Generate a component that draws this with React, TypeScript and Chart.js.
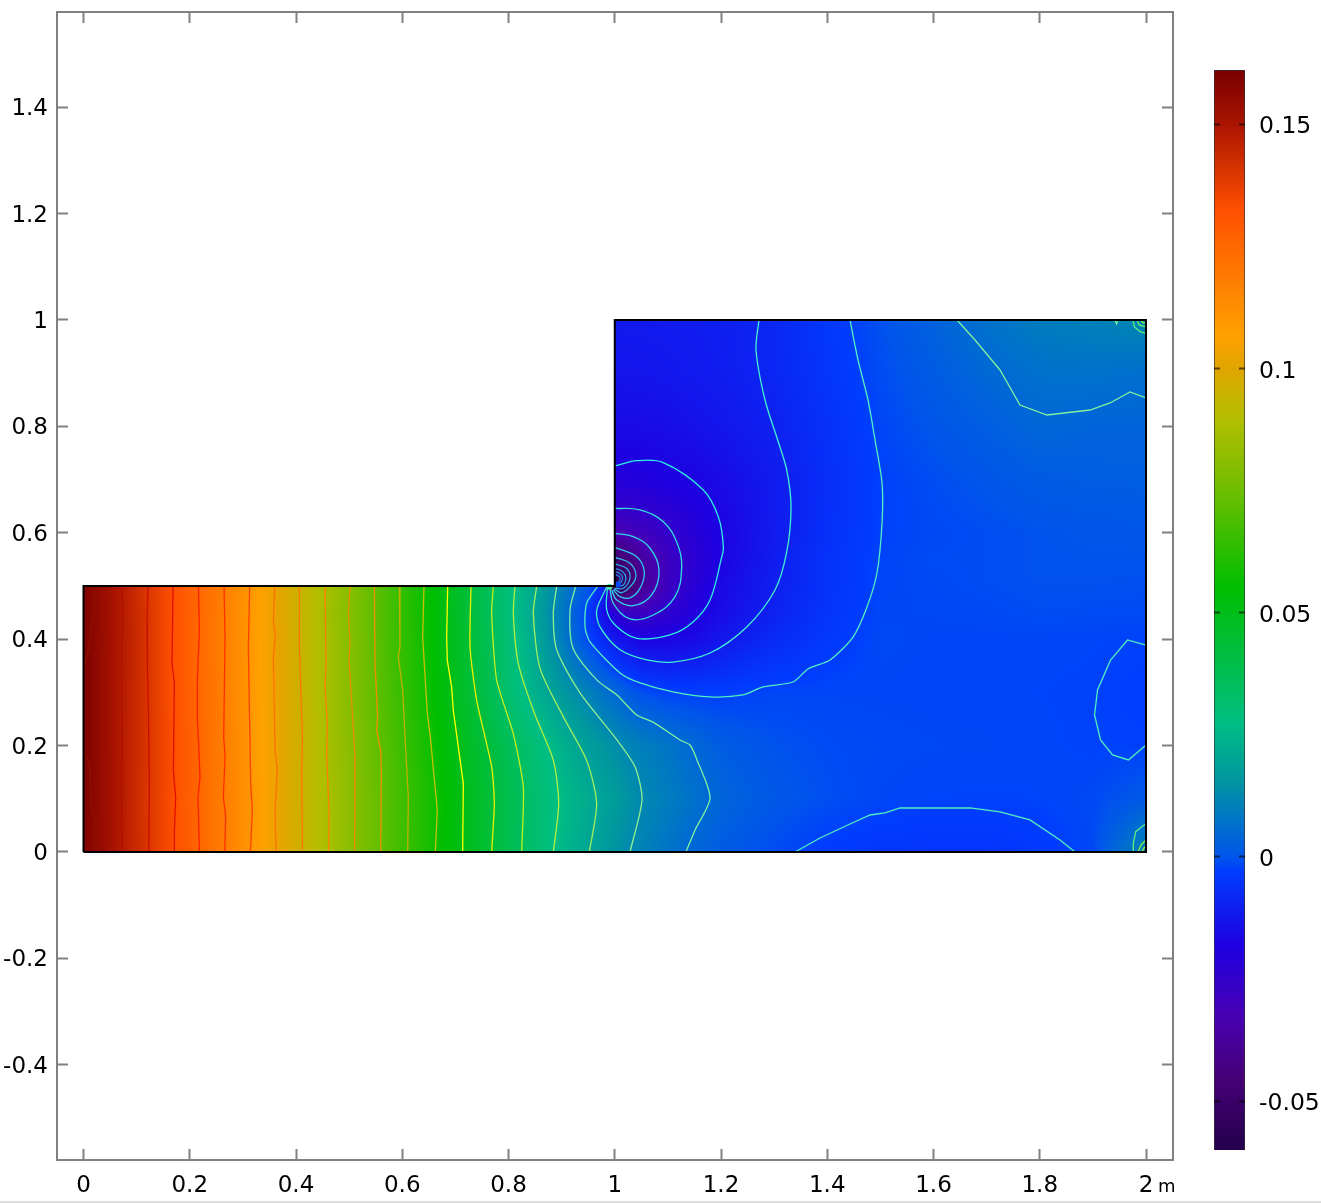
import React, { useEffect, useRef } from "react";
import { Chart, registerables } from "chart.js";

Chart.register(...registerables);

// Field samples (metres, value)
const xsLeft = [0, 0.1, 0.2, 0.3, 0.4, 0.5, 0.6, 0.7, 0.8, 0.85, 0.9, 0.95, 0.98];
const xsRight = [1, 1.02, 1.05, 1.1, 1.15, 1.2, 1.3, 1.4, 1.5, 1.6, 1.7, 1.8, 1.9, 2];
const ysLower = [0, 0.1, 0.2, 0.3, 0.4, 0.45, 0.5];
const ysUpper = [0.52, 0.55, 0.6, 0.65, 0.7, 0.8, 0.9, 1];

const rowY000 = [0.16, 0.1434, 0.128, 0.1125, 0.0968, 0.0816, 0.0665, 0.052, 0.0383, 0.0317, 0.0258, 0.0202, 0.0175, 0.0153, 0.0133, 0.0109, 0.0074, 0.004, 0.0015, -0.0012, -0.0034, -0.0045, -0.005, -0.005, -0.0038, -0.0015, 0.012];
const rowY010 = [0.16, 0.1433, 0.1278, 0.1125, 0.0967, 0.0817, 0.0667, 0.0522, 0.0388, 0.0318, 0.0269, 0.022, 0.0193, 0.0178, 0.0153, 0.0125, 0.0096, 0.0066, 0.0038, 0.0007, -0.0008, -0.0018, -0.0022, -0.0023, -0.0022, -0.0015, 0.001];
const rowY020 = [0.16, 0.1434, 0.128, 0.1123, 0.0966, 0.081, 0.0658, 0.0507, 0.0368, 0.0304, 0.0238, 0.0183, 0.0155, 0.0138, 0.012, 0.0102, 0.0076, 0.0044, 0.0018, -0.0003, -0.0012, -0.0015, -0.0017, -0.0018, -0.002, -0.0024, -0.0025];
const rowY030 = [0.16, 0.1435, 0.1275, 0.112, 0.0965, 0.0802, 0.0648, 0.0488, 0.0318, 0.0235, 0.0165, 0.0108, 0.0067, 0.0046, 0.002, -0.0008, -0.0025, -0.0027, -0.0028, -0.0019, -0.0018, -0.0019, -0.002, -0.002, -0.0022, -0.0024, -0.003];
const rowY040 = [0.16, 0.1437, 0.1272, 0.112, 0.0962, 0.08, 0.0643, 0.0482, 0.0307, 0.0212, 0.0097, -0.0022, -0.008, -0.0118, -0.0142, -0.0172, -0.0172, -0.0157, -0.0125, -0.0075, -0.004, -0.0016, -0.0019, -0.0019, -0.0019, -0.0021, -0.0024];
const rowY045 = [0.16, 0.1435, 0.1275, 0.1118, 0.096, 0.0798, 0.0642, 0.0475, 0.0295, 0.02, 0.0085, -0.0035, -0.0155, -0.0218, -0.0265, -0.028, -0.0235, -0.019, -0.0155, -0.0095, -0.005, -0.0018, -0.0017, -0.0015, -0.001, -0.0012, -0.0013];
const rowY050 = [0.16, 0.1432, 0.1275, 0.112, 0.096, 0.0803, 0.064, 0.0475, 0.0297, 0.0206, 0.0105, 0.0008, -0.008, -0.06, -0.054, -0.0395, -0.028, -0.0215, -0.016, -0.0103, -0.0055, -0.002, -0.0015, -0.001, -0.0005, -0.0005, -0.0008];
const rowY052 = [-0.058, -0.052, -0.0395, -0.028, -0.022, -0.0168, -0.0105, -0.0055, -0.0021, -0.0014, -0.001, -0.0004, -0.0004, -0.0005];
const rowY055 = [-0.0495, -0.0455, -0.037, -0.0285, -0.0224, -0.0175, -0.0108, -0.0055, -0.0022, -0.0012, -0.001, -0.0003, -0.0002, -0.0002];
const rowY060 = [-0.0325, -0.0315, -0.0295, -0.0255, -0.021, -0.0175, -0.0115, -0.006, -0.0025, -0.0015, -0.001, -0.0003, 0.0002, 0.0003];
const rowY065 = [-0.025, -0.0248, -0.0238, -0.0215, -0.0187, -0.0165, -0.0113, -0.0063, -0.0027, -0.0013, -0.0003, 0.0006, 0.001, 0.0012];
const rowY070 = [-0.0199, -0.0198, -0.0193, -0.0177, -0.0172, -0.0155, -0.0113, -0.0065, -0.0026, -0.001, 0.0003, 0.0015, 0.002, 0.0022];
const rowY080 = [-0.0155, -0.0155, -0.0153, -0.0148, -0.0138, -0.0125, -0.0098, -0.0058, -0.002, 0.0003, 0.002, 0.0042, 0.0035, 0.0035];
const rowY090 = [-0.013, -0.013, -0.0128, -0.0123, -0.0115, -0.0108, -0.0085, -0.0048, -0.0012, 0.0015, 0.0045, 0.0065, 0.0068, 0.006];
const rowY100 = [-0.0115, -0.0115, -0.0114, -0.0112, -0.0108, -0.0103, -0.0082, -0.0042, -0.0005, 0.003, 0.0068, 0.0095, 0.0105, 0.012];

const lowerRows = [rowY000, rowY010, rowY020, rowY030, rowY040, rowY045, rowY050];
const upperRows = [rowY052, rowY055, rowY060, rowY065, rowY070, rowY080, rowY090, rowY100];

// Domain outline
const domainX = [0, 2, 2, 1, 1, 0, 0];
const domainY = [0, 0, 1, 1, 0.5, 0.5, 0];

// Colour table: value, r, g, b
const colorValues = [-0.06, -0.045, -0.032, -0.018, -0.003, 0, 0.0157, 0.0275, 0.04, 0.055, 0.075, 0.09, 0.1, 0.107, 0.1324, 0.15, 0.1611];
const colorRGB = [
  [35, 0, 75], [70, 0, 120], [70, 0, 180], [30, 0, 225], [0, 60, 255], [0, 85, 235], [0, 150, 160], [0, 190, 130],
  [0, 190, 70], [0, 190, 0], [110, 190, 0], [180, 190, 0], [225, 165, 0], [255, 160, 0], [255, 80, 0], [170, 20, 0], [120, 0, 0],
];

// Contour lines as [x, y]
const contourLines: number[][][] = [
  [[0.0216, 0.5], [0.0185, 0.449], [0.009, 0.38], [0.001, 0.342]],
  [[0.0719, 0.5], [0.075, 0.423], [0.0719, 0.398], [0.0725, 0.25], [0.0719, 0.06], [0.0731, 0]],
  [[0.1214, 0.5], [0.1196, 0.429], [0.1202, 0.354], [0.1221, 0.266], [0.124, 0.122], [0.1227, 0]],
  [[0.1685, 0.5], [0.1666, 0.354], [0.171, 0.317], [0.1691, 0.153], [0.1735, 0.103], [0.171, 0.04], [0.171, 0]],
  [[0.2162, 0.5], [0.2181, 0.417], [0.2143, 0.323], [0.2143, 0.254], [0.2193, 0.141], [0.2156, 0.103], [0.2181, 0]],
  [[0.2645, 0.5], [0.2664, 0.404], [0.2639, 0.216], [0.2664, 0.179], [0.2632, 0.103], [0.2676, 0.066], [0.2658, 0]],
  [[0.3128, 0.5], [0.3103, 0.385], [0.3147, 0.128], [0.3178, 0.078], [0.3141, 0]],
  [[0.3599, 0.5], [0.3574, 0.435], [0.3611, 0.404], [0.3574, 0.367], [0.3605, 0.191], [0.3649, 0.154], [0.3605, 0.078], [0.3624, 0]],
  [[0.4063, 0.5], [0.4063, 0.385], [0.412, 0.216], [0.4107, 0.154], [0.412, 0]],
  [[0.4546, 0.5], [0.4565, 0.354], [0.4546, 0.31], [0.459, 0.241], [0.4578, 0.179], [0.4621, 0.078], [0.4615, 0]],
  [[0.5016, 0.5], [0.4985, 0.448], [0.5016, 0.398], [0.4997, 0.36], [0.5066, 0.254], [0.511, 0.179], [0.5104, 0]],
  [[0.5474, 0.5], [0.5487, 0.354], [0.5537, 0.254], [0.5518, 0.229], [0.5593, 0.191], [0.5606, 0.154], [0.5593, 0]],
  [[0.5945, 0.5], [0.5957, 0.385], [0.5926, 0.367], [0.6008, 0.304], [0.6052, 0.216], [0.6114, 0.103], [0.6102, 0]],
  [[0.6409, 0.5], [0.6384, 0.404], [0.6472, 0.26], [0.6522, 0.222], [0.666, 0.078], [0.6622, 0]],
  [[0.6855, 0.5], [0.6836, 0.404], [0.6848, 0.36], [0.693, 0.31], [0.6961, 0.266], [0.715, 0.128], [0.7137, 0]],
  [[0.7294, 0.5], [0.7275, 0.385], [0.7401, 0.285], [0.7683, 0.16], [0.7733, 0.091], [0.7683, 0]],
  [[0.7714, 0.5], [0.7683, 0.448], [0.7777, 0.323], [0.8091, 0.222], [0.8279, 0.122], [0.8248, 0]],
  [[0.8122, 0.5], [0.8091, 0.448], [0.8185, 0.354], [0.8467, 0.266], [0.8844, 0.172], [0.8944, 0.091], [0.8844, 0]],
  [[0.853, 0.5], [0.8467, 0.448], [0.8593, 0.345], [0.9032, 0.254], [0.9471, 0.172], [0.9659, 0.091], [0.9521, 0]],
  [[0.8907, 0.5], [0.8843, 0.449], [0.8907, 0.38], [0.9346, 0.299], [1.0042, 0.2105], [1.0381, 0.16], [1.0513, 0.098], [1.0287, 0]],
  [[0.9265, 0.5], [0.9158, 0.455], [0.9214, 0.383], [0.9666, 0.323], [1.0042, 0.295], [1.0413, 0.2575], [1.072, 0.244], [1.1228, 0.2105], [1.1416, 0.201], [1.1548, 0.173], [1.1793, 0.1015], [1.151, 0.041], [1.134, 0]],
  [[0.9685, 0.5], [0.9472, 0.468], [0.944, 0.423], [0.9534, 0.395], [1.0099, 0.3365], [1.0475, 0.3177], [1.1096, 0.3008], [1.1793, 0.2914], [1.2414, 0.2951], [1.2791, 0.3102], [1.3355, 0.3195], [1.3638, 0.344], [1.4052, 0.361], [1.4485, 0.404], [1.4748, 0.4605], [1.4936, 0.5244], [1.5031, 0.6184], [1.5031, 0.6936], [1.4899, 0.7744], [1.4767, 0.8496], [1.4579, 0.9248], [1.4428, 1]],
  [[0.9849, 0.498], [0.966, 0.455], [0.9722, 0.423], [1.0099, 0.38], [1.0602, 0.361], [1.1096, 0.357], [1.1793, 0.374], [1.2484, 0.423], [1.3016, 0.4925], [1.3237, 0.564], [1.3318, 0.6485], [1.3237, 0.718], [1.3067, 0.7744], [1.2828, 0.8496], [1.2659, 0.9436], [1.2715, 1]],
  [[0.986, 0.4956], [0.9849, 0.455], [1.0005, 0.4267], [1.0413, 0.4017], [1.104, 0.4079], [1.1478, 0.4329], [1.1793, 0.4737], [1.2, 0.5489], [1.2044, 0.5738], [1.1949, 0.6303], [1.1667, 0.6805], [1.0914, 0.7318], [1.0413, 0.7355], [1.0005, 0.7256]],
  [[0.9911, 0.4956], [0.9972, 0.4675], [1.0287, 0.438], [1.0725, 0.4455], [1.1134, 0.48], [1.126, 0.536], [1.1177, 0.58], [1.0914, 0.6207], [1.0475, 0.6429], [1.0005, 0.6459]],
  [[0.9943, 0.4925], [1.0037, 0.4737], [1.0349, 0.463], [1.0696, 0.4831], [1.0833, 0.53], [1.0664, 0.5709], [1.0349, 0.5927], [1.0005, 0.599]],
  [[0.9972, 0.4925], [1.0099, 0.48], [1.0287, 0.4778], [1.0475, 0.4956], [1.0556, 0.5269], [1.0414, 0.555], [1.0005, 0.5727]],
  [[0.9986, 0.4944], [1.0131, 0.4874], [1.0319, 0.5019], [1.04, 0.5207], [1.0287, 0.5427], [1.0005, 0.5539]],
  [[1.0005, 0.4956], [1.0162, 0.4956], [1.0287, 0.5145], [1.0225, 0.533], [1.0005, 0.5414]],
  [[1.0024, 0.4987], [1.0162, 0.5019], [1.0206, 0.5175], [1.0131, 0.5282], [1.0005, 0.5333]],
  [[1.0037, 0.5006], [1.0131, 0.5081], [1.0143, 0.5175], [1.0087, 0.5238], [1.0005, 0.5269]],
  [[1.0037, 0.5038], [1.0099, 0.5113], [1.0087, 0.5175], [1.0005, 0.522]],
  // left edge, lower piece
  [[0.001, 0.186], [0.011, 0.167], [0.015, 0.079], [0.0235, 0.064], [0.0235, 0]],
  // upper right
  [[1.6442, 1], [1.6781, 0.9624], [1.7252, 0.906], [1.7628, 0.8402], [1.8136, 0.8214], [1.8946, 0.8308], [1.9322, 0.844], [1.9699, 0.8647], [2, 0.8534]],
  // right edge loop
  [[2, 0.389], [1.9652, 0.3985], [1.9332, 0.3609], [1.9087, 0.3045], [1.9031, 0.2575], [1.9144, 0.2105], [1.937, 0.1823], [1.967, 0.1729], [2, 0.2011]],
  // bottom arc
  [[1.3393, 0], [1.3864, 0.0263], [1.4428, 0.0526], [1.4805, 0.0695], [1.5087, 0.0733], [1.5369, 0.0827], [1.5934, 0.0827], [1.6687, 0.0827], [1.7252, 0.0752], [1.7816, 0.0602], [1.8381, 0.0226], [1.8664, 0]],
  // corner details
  [[1.9416, 1], [1.9445, 0.9925], [1.9473, 1]],
  [[1.9755, 1], [1.978, 0.9874], [1.9887, 0.978], [1.9994, 0.975]],
  [[1.9831, 1], [1.9868, 0.9906], [2, 0.9868]],
  [[1.9906, 1], [1.9944, 0.9944], [2, 0.9944]],
  [[1.9994, 0.0526], [1.9919, 0.0476], [1.9806, 0.0382], [1.9761, 0.0163], [1.9761, 0]],
  [[1.9849, 0], [1.9906, 0.0132], [2, 0.0226]],
  [[1.9925, 0], [1.9962, 0.0075], [2, 0.0113]],
];
const contourColors = [
  "#8f1000", "#b01000", "#c81000", "#e01000", "#ff2000", "#ff3000", "#ff4000", "#ff7000", "#ff7800", "#ff8000", "#e89000",
  "#f09000", "#c0b000", "#c8c000", "#ffff00", "#e8f000", "#c0f020", "#b0f040", "#a0f060", "#90f090", "#80f0a0", "#50f0c0",
  "#40f0d0", "#30f0e0", "#30e0e0", "#30d8e8", "#30c8e8", "#30b8e8", "#30a8e8", "#3098e8", "#3088e8", "#3078e8",
  "#8f1000", "#80f0a0", "#50f0c0", "#50f0c0", "#70f0a0", "#60f080", "#70f060", "#90f040", "#60f080", "#80f050", "#a0f040",
];
// Curve rounding per contour group
const contourTension = [0, 0, 0, 0, 0, 0, 0, 0, 0, 0, 0, 0, 0, 0, 0, 0.2, 0.2, 0.25, 0.25, 0.25, 0.25, 0.25, 0.3, 0.35, 0.4, 0.4, 0.4, 0.4, 0.4, 0.4, 0.4, 0.4];

// Small spot right at the re-entrant corner
const spotX = [0.99, 1.006];
const spotY = [0.4985, 0.503];
const spotColors = ["#50e8a0", "#0048f8"];

// Axis ticks
const axisStep = 0.2;
const barStep = 0.05;
const xRange = [-0.0499, 2.0508];
const yRange = [-0.579, 1.5789];
const barRange = [-0.06, 0.1611];

const AXIS_GREY = "#808080";
const FONT = "'DejaVu Sans'";

const fmt = (v: number | string) => String(Number(Number(v).toFixed(2)));

function colorAt(v: number): number[] {
  if (v <= colorValues[0]) return colorRGB[0];
  for (let i = 1; i < colorValues.length; i++) {
    if (v <= colorValues[i]) {
      const t = (v - colorValues[i - 1]) / (colorValues[i] - colorValues[i - 1]);
      const a = colorRGB[i - 1];
      const b = colorRGB[i];
      return [a[0] + (b[0] - a[0]) * t, a[1] + (b[1] - a[1]) * t, a[2] + (b[2] - a[2]) * t];
    }
  }
  return colorRGB[colorRGB.length - 1];
}

function bracket(list: number[], v: number): number {
  let i = 0;
  while (i < list.length - 2 && v > list[i + 1]) i++;
  return i;
}

const xsAll = [...xsLeft, ...xsRight];
const ysAll = [...ysLower, ...ysUpper];

function sample(i: number, j: number): number {
  if (j < lowerRows.length) return lowerRows[j][i];
  return upperRows[j - lowerRows.length][i - xsLeft.length];
}

function fieldAt(x: number, y: number): number | null {
  if (x < 0 || x > 2 || y < 0 || y > 1) return null;
  if (x < 1 && y > 0.5) return null;
  const i = bracket(xsAll, x);
  const j = bracket(ysAll, y);
  const tx = (x - xsAll[i]) / (xsAll[i + 1] - xsAll[i]);
  const ty = (y - ysAll[j]) / (ysAll[j + 1] - ysAll[j]);
  const a = sample(i, j);
  const b = sample(i + 1, j);
  const c = sample(i, j + 1);
  const d = sample(i + 1, j + 1);
  return (a * (1 - tx) + b * tx) * (1 - ty) + (c * (1 - tx) + d * tx) * ty;
}

const fieldPlugin = {
  id: "fieldShade",
  beforeDatasetsDraw(chart: any) {
    const { ctx, scales } = chart;
    const x0 = Math.floor(scales.x.getPixelForValue(0));
    const x1 = Math.ceil(scales.x.getPixelForValue(2));
    const y0 = Math.floor(scales.y.getPixelForValue(1));
    const y1 = Math.ceil(scales.y.getPixelForValue(0));
    const w = x1 - x0;
    const h = y1 - y0;
    const off = document.createElement("canvas");
    off.width = w;
    off.height = h;
    const octx = off.getContext("2d")!;
    const img = octx.createImageData(w, h);
    for (let py = 0; py < h; py++) {
      const yv = scales.y.getValueForPixel(y0 + py + 0.5);
      for (let px = 0; px < w; px++) {
        const xv = scales.x.getValueForPixel(x0 + px + 0.5);
        const v = fieldAt(xv, yv);
        if (v === null) continue;
        const c = colorAt(v);
        const k = (py * w + px) * 4;
        img.data[k] = c[0];
        img.data[k + 1] = c[1];
        img.data[k + 2] = c[2];
        img.data[k + 3] = 255;
      }
    }
    octx.putImageData(img, 0, 0);
    ctx.drawImage(off, x0, y0);
  },
};

const unitPlugin = {
  id: "unitLabel",
  afterDraw(chart: any) {
    const { ctx, scales } = chart;
    ctx.save();
    ctx.font = `18px ${FONT}`;
    ctx.fillStyle = "#000";
    ctx.textAlign = "left";
    ctx.textBaseline = "alphabetic";
    ctx.fillText("m", scales.x.getPixelForValue(2) + 12, 1192);
    ctx.restore();
  },
};

const sideAxis = (position: string, range: number[], step: number) => ({
  type: "linear",
  position,
  min: range[0],
  max: range[1],
  border: { display: true, color: AXIS_GREY, width: 2 },
  grid: { drawOnChartArea: false, drawTicks: true, tickLength: -11, tickWidth: 2, tickColor: AXIS_GREY },
  ticks: { display: false, stepSize: step, includeBounds: false },
  afterFit(scale: any) {
    if (position === "top") scale.height = 0;
    else scale.width = 0;
    scale.paddingTop = 0;
    scale.paddingBottom = 0;
    scale.paddingLeft = 0;
    scale.paddingRight = 0;
  },
});

export default function App() {
  const mainRef = useRef<HTMLCanvasElement>(null);
  const barRef = useRef<HTMLCanvasElement>(null);

  useEffect(() => {
    const datasets: any[] = [
      {
        label: "domain",
        data: domainX.map((x, i) => ({ x, y: domainY[i] })),
        showLine: true,
        borderColor: "#000",
        borderWidth: 2,
        pointRadius: 0,
        order: 0,
      },
      {
        label: "corner",
        data: spotX.map((x, i) => ({ x, y: spotY[i] })),
        pointRadius: 3,
        pointBorderWidth: 0,
        pointBackgroundColor: spotColors,
        order: 1,
      },
      ...contourLines.map((pts, i) => ({
        label: `contour ${i + 1}`,
        data: pts.map(([x, y]) => ({ x, y })),
        showLine: true,
        borderColor: contourColors[i],
        borderWidth: 1.3,
        tension: contourTension[i] ?? 0,
        pointRadius: 0,
        order: 2,
      })),
    ];

    const main = new Chart(mainRef.current!, {
      type: "scatter",
      data: { datasets },
      plugins: [fieldPlugin, unitPlugin],
      options: {
        animation: false,
        responsive: false,
        devicePixelRatio: 1,
        layout: { padding: { top: 12, right: 148, left: 0, bottom: 0 } },
        plugins: { legend: { display: false }, tooltip: { enabled: false } },
        scales: {
          x: {
            type: "linear",
            position: "bottom",
            min: xRange[0],
            max: xRange[1],
            border: { display: true, color: AXIS_GREY, width: 2 },
            grid: { drawOnChartArea: false, tickLength: -11, tickWidth: 2, tickColor: AXIS_GREY },
            ticks: {
              stepSize: axisStep,
              includeBounds: false,
              maxRotation: 0,
              autoSkip: false,
              padding: 23,
              color: "#000",
              font: { family: FONT, size: 23 },
              callback: (v: any) => fmt(v),
            },
            afterFit(scale: any) {
              scale.height = 43;
              scale.paddingLeft = 0;
              scale.paddingRight = 0;
            },
          },
          y: {
            type: "linear",
            position: "left",
            min: yRange[0],
            max: yRange[1],
            border: { display: true, color: AXIS_GREY, width: 2 },
            grid: { drawOnChartArea: false, tickLength: -11, tickWidth: 2, tickColor: AXIS_GREY },
            ticks: {
              stepSize: axisStep,
              includeBounds: false,
              autoSkip: false,
              padding: 20,
              labelOffset: 2,
              color: "#000",
              font: { family: FONT, size: 23 },
              callback: (v: any) => fmt(v),
            },
            afterFit(scale: any) {
              scale.width = 57;
              scale.paddingTop = 0;
              scale.paddingBottom = 0;
            },
          },
          xTop: sideAxis("top", xRange, axisStep),
          yRight: sideAxis("right", yRange, axisStep),
        },
      } as any,
    } as any);

    const bar = new Chart(barRef.current!, {
      type: "bar",
      data: {
        labels: ["value"],
        datasets: [
          {
            data: [barRange],
            barPercentage: 1,
            categoryPercentage: 1,
            borderWidth: 1,
            borderColor: "#333",
            backgroundColor: (c: any) => {
              const area = c.chart.chartArea;
              if (!area) return "#000";
              const g = c.chart.ctx.createLinearGradient(0, area.bottom, 0, area.top);
              colorValues.forEach((v, i) => {
                const t = (v - barRange[0]) / (barRange[1] - barRange[0]);
                const q = colorRGB[i];
                g.addColorStop(Math.min(1, Math.max(0, t)), `rgb(${q[0]},${q[1]},${q[2]})`);
              });
              return g;
            },
          },
        ],
      },
      options: {
        animation: false,
        responsive: false,
        devicePixelRatio: 1,
        layout: { padding: { top: 70, bottom: 53, left: 24, right: 0 } },
        plugins: { legend: { display: false }, tooltip: { enabled: false } },
        scales: {
          x: { display: false },
          y: {
            type: "linear",
            position: "right",
            min: barRange[0],
            max: barRange[1],
            border: { display: false },
            grid: { drawOnChartArea: false, tickLength: -6, tickWidth: 2, tickColor: "rgba(0,0,0,0.6)", z: 2 },
            ticks: {
              stepSize: barStep,
              includeBounds: false,
              padding: 20,
              labelOffset: 3,
              color: "#000",
              font: { family: FONT, size: 23.5 },
              callback: (v: any) => fmt(v),
            },
            afterFit(scale: any) {
              scale.width = 76;
              scale.paddingTop = 0;
              scale.paddingBottom = 0;
            },
          },
          yLeft: {
            type: "linear",
            position: "left",
            min: barRange[0],
            max: barRange[1],
            border: { display: false },
            grid: { drawOnChartArea: false, tickLength: -6, tickWidth: 2, tickColor: "rgba(0,0,0,0.6)", z: 2 },
            ticks: { display: false, stepSize: barStep, includeBounds: false },
            afterFit(scale: any) {
              scale.width = 0;
              scale.paddingTop = 0;
              scale.paddingBottom = 0;
            },
          },
        },
      } as any,
    } as any);

    return () => {
      main.destroy();
      bar.destroy();
    };
  }, []);

  return (
    <div style={{ position: "absolute", left: 0, top: 0, width: 1321, height: 1203, overflow: "hidden", background: "#fff" }}>
      <canvas ref={mainRef} width={1321} height={1203} style={{ position: "absolute", left: 0, top: 0, display: "block" }} />
      <canvas ref={barRef} width={131} height={1203} style={{ position: "absolute", left: 1190, top: 0, display: "block" }} />
      <div style={{ position: "absolute", left: 0, top: 1201, width: 1321, height: 2, background: "#dcdcdc" }} />
    </div>
  );
}
